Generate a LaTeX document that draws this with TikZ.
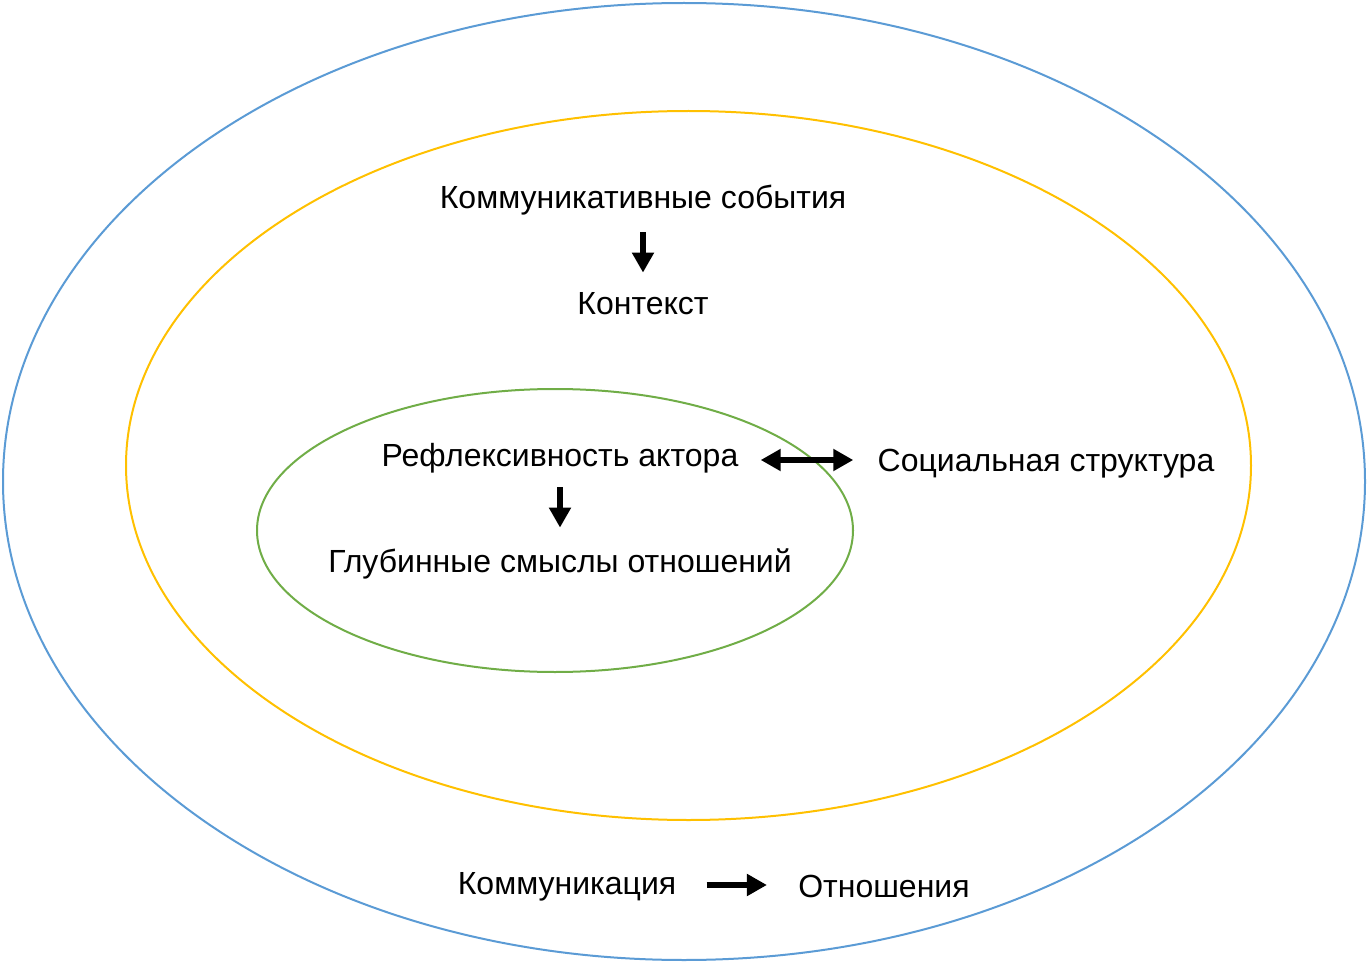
\documentclass[tikz,border=0pt]{standalone}
\usepackage{fontspec}
\setmainfont{Liberation Sans}
\usetikzlibrary{arrows.meta}
\definecolor{cblue}{RGB}{91,155,213}
\definecolor{cyellow}{RGB}{255,192,0}
\definecolor{cgreen}{RGB}{112,173,71}
\tikzset{
  lbl/.style={inner sep=0pt, text height=12pt, text depth=3.5pt, font=\fontsize{16}{19}\selectfont},
  arr/.style={line width=3pt, -{Triangle[width=10.5pt,length=10pt]}},
  darr/.style={line width=3pt, {Triangle[width=10.5pt,length=10pt]}-{Triangle[width=10.5pt,length=10pt]}},
  ring/.style={line width=1pt}
}
\begin{document}
\begin{tikzpicture}[x=0.5pt,y=-0.5pt]
\useasboundingbox (0,0) rectangle (1367,963);
\draw[ring, cblue] (684,481.5) ellipse [x radius=681, y radius=478.5];
\draw[ring, cyellow] (688.5,465.5) ellipse [x radius=562.5, y radius=354.5];
\draw[ring, cgreen] (555,530.5) ellipse [x radius=298, y radius=141.5];

\node[lbl] (ke) at (643,200) {Коммуникативные события};
\node[lbl] (ctx) at (643,306) {Контекст};
\node[lbl] (refl) at (560,458) {Рефлексивность актора};
\node[lbl] (glub) at (560,564) {Глубинные смыслы отношений};
\node[lbl] (soc) at (1046,463) {Социальная структура};
\node[lbl] (kom) at (567,886) {Коммуникация};
\node[lbl] (rel) at (884,889) {Отношения};

\draw[arr, shorten <=8.25pt, shorten >=8.75pt] (ke) -- (ctx);
\draw[arr, shorten <=6.75pt, shorten >=10.25pt] (refl) -- (glub);
\draw[darr, shorten <=11pt, shorten >=12pt] (refl.east |- 0,460) -- (soc.west |- 0,460);
\draw[arr, shorten <=15pt, shorten >=15.5pt] (kom.east |- 0,885) -- (rel.west |- 0,885);
\end{tikzpicture}
\end{document}
